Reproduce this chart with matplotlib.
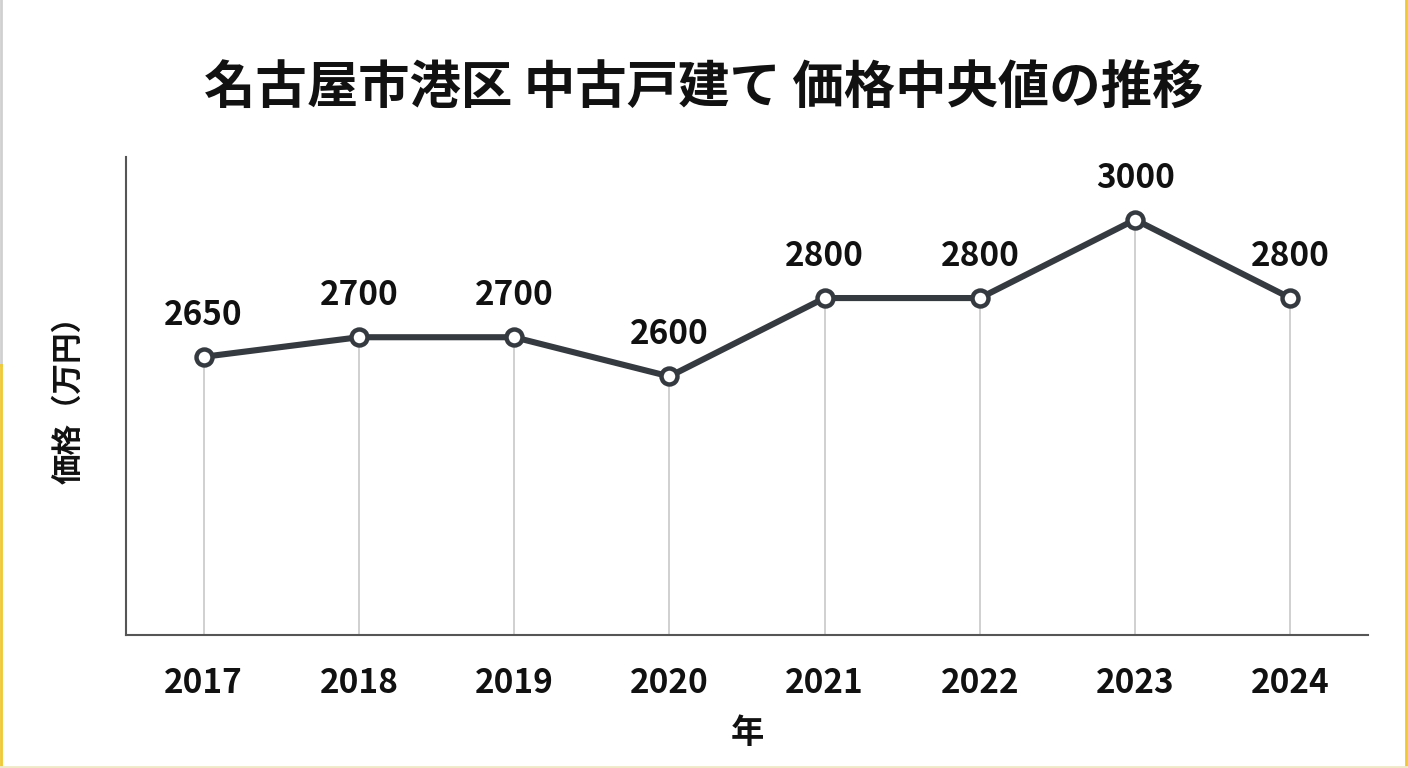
import matplotlib
matplotlib.use("Agg")
import matplotlib.pyplot as plt
from matplotlib.lines import Line2D

plt.rcParams['font.family'] = ['Noto Sans CJK JP', 'DejaVu Sans']

years = ["2017", "2018", "2019", "2020", "2021", "2022", "2023", "2024"]
prices = [2650, 2700, 2700, 2600, 2800, 2800, 3000, 2800]
title = "名古屋市港区 中古戸建て 価格中央値の推移"
xlabel = "年"
ylabel = "価格（万円）"

W, H = 1408, 768
fig = plt.figure(figsize=(W / 100, H / 100), dpi=100)
fig.patch.set_facecolor("white")
ax = fig.add_axes([126 / W, 1 - 635 / H, (1368 - 126) / W, (635 - 157) / H])

x = list(range(len(years)))
ymin, ymax = 1940, 3160
ax.set_xlim(-0.5, len(years) - 0.5)
ax.set_ylim(ymin, ymax)

ax.vlines(x, ymin, prices, colors="#c8c8c8", linewidth=1.2, zorder=1)
ax.plot(x, prices, color="#353a40", linewidth=4.4, marker="o", markersize=11.5,
        markerfacecolor="white", markeredgecolor="#353a40", markeredgewidth=3.2,
        zorder=3, solid_capstyle="round", solid_joinstyle="round")

for xi, v in zip(x, prices):
    ax.annotate(f"{v}", (xi, v), xytext=(0, 30), textcoords="offset points",
                ha="center", va="center", fontsize=24, fontweight="bold",
                color="#111111")

ax.set_xticks(x)
ax.set_xticklabels(years, fontsize=24, fontweight="bold", color="#111111")
ax.tick_params(axis="x", length=0, pad=23)
ax.set_yticks([])
for s in ["top", "right"]:
    ax.spines[s].set_visible(False)
for s in ["left", "bottom"]:
    ax.spines[s].set_color("#555555")
    ax.spines[s].set_linewidth(1.5)

ax.set_xlabel(xlabel, fontsize=24, fontweight="bold", color="#111111")
ax.xaxis.label.set_verticalalignment("center")
ax.xaxis.set_label_coords((747 - 126) / 1242, (635 - 733) / 478)

ax.set_ylabel(ylabel, fontsize=22, fontweight="bold", color="#111111")
ax.yaxis.label.set_verticalalignment("center")
ax.yaxis.set_label_coords((68 - 126) / 1242, (635 - 392) / 478)

fig.text(704 / W, 1 - 88 / H, title, ha="center", va="center",
         fontsize=37, fontweight="bold", color="#111111")

# thin frame edges seen in the reference
fig.add_artist(Line2D([1405.5 / W, 1405.5 / W], [0, 1], color="#f0c830", linewidth=2))
fig.add_artist(Line2D([1 / W, 1 / W], [1 - 365 / H, 1], color="#d0d0d0", linewidth=2))
fig.add_artist(Line2D([1 / W, 1 / W], [0, 1 - 365 / H], color="#f0c830", linewidth=2))
fig.add_artist(Line2D([0, 1], [1 / H, 1 / H], color="#efe9c8", linewidth=2))

fig.savefig("out.png", dpi=100)
